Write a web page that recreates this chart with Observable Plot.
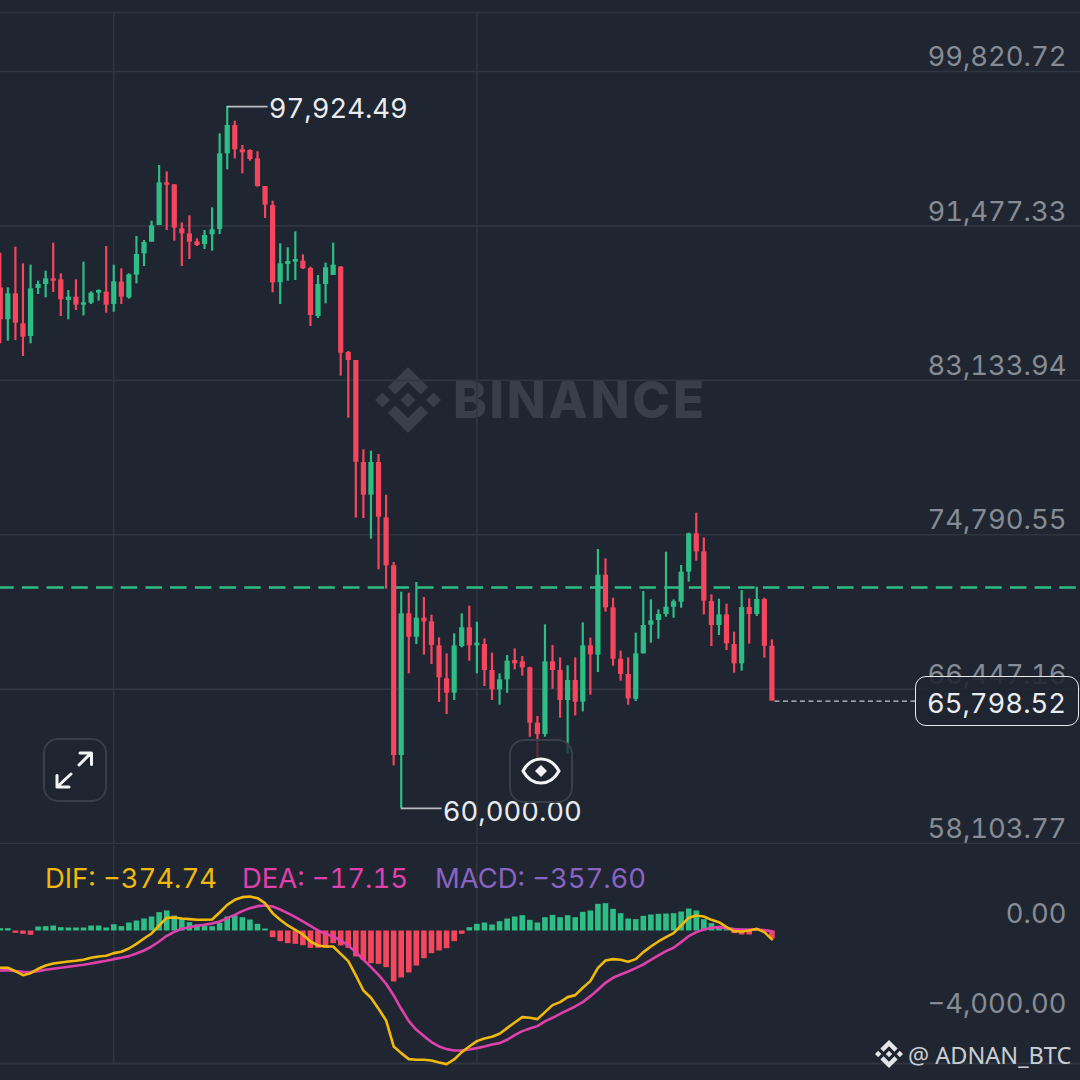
<!DOCTYPE html>
<html>
<head>
<meta charset="utf-8">
<script src="https://cdn.jsdelivr.net/npm/d3@7"></script>
<script src="https://cdn.jsdelivr.net/npm/@observablehq/plot@0.6"></script>
<style>
html,body{margin:0;padding:0;background:#1f2631;}
#stage{position:relative;width:1080px;height:1080px;overflow:hidden;background:#1f2631;font-family:Inter,sans-serif;}
#stage svg{display:block;}
.plot{position:absolute;left:0;}
.abs{position:absolute;white-space:nowrap;font-variant-numeric:tabular-nums;}
.btn{position:absolute;width:60px;height:60px;border:2px solid #383e4a;border-radius:15px;background:rgba(31,38,49,.72);}
</style>
</head>
<body>
<div id="stage"></div>
<script>
const highs=[90004,88130,90328,89427,89355,88491,89031,90544,88887,87986,88563,89517,87914,88022,90364,89355,89157,88887,90904,90688,91733,94741,94399,93696,91643,92021,90778,91229,92453,96452,97924.49,97137,95822,95588,95480,93606,92814,90508,90292,91156,89914,89247,88797,89463,90544,89283,84690,84203,79376,79304,79124,76926,73287,71684,71630,72207,71396,70441,69216,68352,69433,70513,70928,70063,69162,68388,67271,68261,68621,68207,67630,64965,69918,68801,68135,67703,68135,70026,69198,73989,73485,71359,68495,68135,69468,71719,71269,70729,73845,71269,73124,74872,75952,74620,71539,71305,71035,69522,71773,71323,71954,71359,69108];
const lows=[85104,85248,85284,84420,85104,87770,87590,87878,86581,86401,86905,86617,87230,87410,86761,86815,87230,87518,88346,89283,90598,91499,91229,90652,89283,89661,90364,90202,90112,91012,94507,95101,94291,94975,93570,91877,87860,87230,88491,88527,89121,86041,86473,87266,88797,83357,81087,75683,75665,74548,72891,71846,62299,60000,67271,68856,68280,67775,65722,65073,65830,68676,67956,67271,66587,65830,65578,66225,67486,67144,63848,62677,63848,66442,64875,62947,65001,65217,66117,67342,70603,67685,66874,65577,65775,68351,68927,69144,70332,70278,70819,72224,73359,70459,68747,69342,68531,67306,67414,68873,70369,68117,65798.52];
const opens=[88130,86401,87806,86185,85500,88094,88310,88617,88563,87446,87626,87194,87302,87842,87896,87230,88437,87590,88815,89968,90598,91499,93804,93696,91319,91048,90616,90472,90994,91283,95372,96903,95588,95552,95101,93606,92580,88401,89391,89517,89571,89175,86581,88310,88797,89247,84636,84203,78691,76926,78691,75701,73107,62858,70513,69252,70279,70081,68784,67001,66226,68748,69757,68784,68856,67451,66406,66946,67991,67919,67594,64604,63992,67919,67450,65829,66910,65739,68783,68279,72602,70837,68063,67234,65901,68351,69900,70152,70477,70873,71143,72764,74836,73863,71179,69882,70459,68855,67811,70855,70477,71287,68765];
const closes=[86401,87806,86221,85464,88076,88310,88617,88491,87482,87626,87194,87320,87842,87986,87194,88455,87626,88833,89932,90580,91481,93804,93678,91355,91048,90598,90418,90958,91265,95372,96903,95588,95426,95065,93606,92598,88401,89427,89553,89661,89157,86635,88310,89211,89355,84600,84203,78709,76926,78691,75737,73107,62858,70513,69252,70279,70081,68802,67055,66226,68784,69757,68784,68928,67451,66406,66947,67955,67811,67594,64604,63992,67919,67450,65829,66910,65739,68783,68297,72602,70837,68063,67234,65919,68351,69882,70134,70477,70873,71161,72764,74836,73863,71197,69882,70459,68891,67811,70855,70477,71287,68765,65798.52];
const dif=[-1636,-1636,-1784,-1962,-1873,-1680,-1532,-1443,-1399,-1354,-1325,-1280,-1192,-1132,-1103,-984,-925,-777,-570,-333,-110,245,586,600,556,526,497,497,512,823,1163,1385,1504,1534,1459,1237,793,497,245,53,-155,-466,-644,-688,-688,-1014,-1340,-1976,-2643,-2969,-3457,-3976,-5131,-5427,-5694,-5723,-5723,-5753,-5842,-5916,-5709,-5383,-5131,-4894,-4776,-4701,-4568,-4316,-4065,-3828,-3857,-3917,-3606,-3295,-3161,-2939,-2850,-2524,-2228,-1636,-1310,-1251,-1280,-1369,-1251,-940,-688,-466,-273,-96,245,586,689,645,497,393,171,-7,-22,23,97,-51,-374.74];
const dea=[-1754,-1739,-1784,-1814,-1828,-1784,-1725,-1680,-1636,-1591,-1547,-1503,-1443,-1384,-1325,-1251,-1192,-1117,-999,-866,-688,-466,-214,-36,97,171,230,275,334,423,571,719,882,1015,1104,1134,1089,956,793,615,423,230,23,-125,-244,-421,-644,-940,-1266,-1606,-1947,-2347,-2865,-3457,-4005,-4390,-4672,-4938,-5131,-5249,-5309,-5309,-5264,-5205,-5131,-5042,-4983,-4835,-4627,-4450,-4331,-4228,-4020,-3857,-3680,-3517,-3354,-3161,-2895,-2613,-2302,-2080,-1932,-1799,-1651,-1488,-1280,-1088,-895,-747,-495,-229,-51,67,141,171,127,82,67,67,67,38,-17.15];
const macd=[104,104,-104,-148,-193,178,193,222,148,133,133,133,222,222,133,281,193,355,444,533,622,815,889,666,518,370,267,207,193,341,622,666,592,489,296,89,-296,-474,-563,-592,-652,-770,-770,-770,-563,-666,-770,-1155,-1303,-1451,-1481,-1629,-2266,-2088,-1866,-1555,-1229,-1007,-889,-785,-474,-148,148,296,355,267,415,533,622,681,474,355,592,696,592,681,592,829,889,1185,1214,963,770,533,504,652,711,741,755,770,844,977,889,504,326,207,59,-118,-178,-178,89,-59,-357.6];

const priceTicks=[99820.72,91477.33,83133.94,74790.55,66447.16,58103.77];
const macdTicks=[0,-4000];
const highLabel=97924.49, lowLabel=60000, lastPrice=65798.52, refPrice=71936;
const legend=[["DIF: −374.74","#f0b90b",45],["DEA: −17.15","#e040ab",242],["MACD: −357.60","#8a63c4",435]];

const BG="#1f2631",GRID="#2f3541",LABEL="#878c94",UP="#2ebd85",DOWN="#f6465d",WHITE="#eaecef";
const FONT="Inter, sans-serif";
const FS=27.4;
const candles=opens.map((o,i)=>({i,o,c:closes[i],h:highs[i],l:lows[i],dir:closes[i]>=o?"up":"down"}));
const hist=macd.map((v,i)=>({i,v,dir:v>=0?"up":"down"}));
const xOpt={domain:[0.03,142.79],range:[0,1080],axis:null};
const colorOpt={domain:["up","down"],range:[UP,DOWN]};
const fmt=d3.format(",.2f");
const fmtTick=v=>fmt(v).replace("-","−");

const priceChart=Plot.plot({
  width:1080,height:844,margin:0,style:{background:"transparent",fontFamily:FONT},
  x:xOpt,
  y:{domain:[58103.77,99820.72],range:[843,71],axis:null},
  color:colorOpt,
  marks:[
    Plot.gridY(priceTicks,{stroke:GRID,strokeOpacity:1,strokeWidth:1.6}),
    Plot.ruleY([103009],{stroke:GRID,strokeWidth:1.6}),
    Plot.ruleX([15,63],{y1:103009,y2:58103.77,stroke:GRID,strokeWidth:1.6}),
    Plot.axisY({ticks:priceTicks,anchor:"right",tickSize:0,tickPadding:-14,textAnchor:"end",dy:-14,tickFormat:fmt,label:null,fontSize:FS,fill:LABEL,fontWeight:400}),
    Plot.ruleY([refPrice],{x1:0.03,x2:142.79,stroke:UP,strokeWidth:2.4,strokeDasharray:"16.5 8.2",strokeDashoffset:2.8}),
    Plot.ruleX(candles,{x:"i",y1:"l",y2:"h",stroke:"dir",strokeWidth:2.2}),
    Plot.ruleX(candles,{x:"i",y1:"o",y2:"c",stroke:"dir",strokeWidth:5.2}),
    Plot.ruleY([highLabel],{x1:30,x2:35.4,stroke:"#b9bcc2",strokeWidth:1.6}),
    Plot.text([highLabel],{x:35.5,y:d=>d,text:fmt,textAnchor:"start",fontSize:FS,fontVariant:"tabular-nums",fill:WHITE,dy:3}),
    Plot.ruleY([lowLabel],{x1:53,x2:58.4,stroke:"#b9bcc2",strokeWidth:1.6}),
    Plot.text([lowLabel],{x:58.5,y:d=>d,text:fmt,textAnchor:"start",fontSize:FS,fontVariant:"tabular-nums",fill:WHITE,dy:3.5}),
    Plot.ruleY([lastPrice],{x1:102.4,x2:121,stroke:"#c4c7cc",strokeWidth:1.4,strokeDasharray:"5 3.5"})
  ]
});
priceChart.classList.add("plot");priceChart.style.top="0px";

const macdChart=Plot.plot({
  width:1080,height:236,margin:0,style:{background:"transparent",fontFamily:FONT},
  x:xOpt,
  y:{domain:[0,-4000],range:[86.5,176.5],axis:null},
  color:colorOpt,
  marks:[
    Plot.ruleY([-5889],{stroke:GRID,strokeWidth:2}),
    Plot.ruleX([15,63],{y1:3800,y2:-5889,stroke:GRID,strokeWidth:1.6}),
    Plot.axisY({ticks:macdTicks,anchor:"right",tickSize:0,tickPadding:-14,textAnchor:"end",dy:-17,tickFormat:fmtTick,label:null,fontSize:FS,fill:LABEL,fontWeight:400}),
    Plot.ruleX(hist,{x:"i",y1:0,y2:"v",stroke:"dir",strokeWidth:5.6}),
    Plot.line(dea,{x:(d,i)=>i,y:d=>d,stroke:"#e040ab",strokeWidth:2.6,strokeLinejoin:"round"}),
    Plot.line(dif,{x:(d,i)=>i,y:d=>d,stroke:"#f0b90b",strokeWidth:2.6,strokeLinejoin:"round"})
  ]
});
macdChart.classList.add("plot");macdChart.style.top="844px";

const stage=document.getElementById("stage");
const logo=`<path d="M38.73 53.2 63.3 28.63l24.59 24.58 14.3-14.3L63.3 0 24.42 38.9z"/><path d="M0 63.3 14.3 49l14.3 14.3-14.3 14.3z"/><path d="M38.73 73.41 63.3 97.98l24.59-24.57 14.31 14.29-38.9 38.91-38.88-38.88z"/><path d="M97.99 63.31l14.3-14.3 14.32 14.3-14.31 14.3z"/><path d="M77.83 63.3 63.3 48.76 52.58 59.5l-1.24 1.23-2.54 2.54 14.5 14.5 14.53-14.5z"/>`;
const wm=document.createElement("div");
wm.innerHTML=`<svg class="abs" style="left:375px;top:367px" width="66" height="66" viewBox="0 0 126.61 126.61" fill="#383f4a">${logo}</svg>
<div class="abs" style="left:453px;top:369px;font:800 51px/62px Inter,sans-serif;letter-spacing:2.7px;color:#383f4a">BINANCE</div>`;
stage.appendChild(wm);
stage.appendChild(priceChart);
stage.appendChild(macdChart);

const over=document.createElement("div");
over.innerHTML=legend.map(([t,c,x])=>`<div class="abs" style="left:${x}px;top:860px;font:400 ${FS}px/36px ${FONT};font-variant-numeric:tabular-nums;color:${c}">${t}</div>`).join("")+
`<div class="btn" style="left:43px;top:738px"><svg width="60" height="60" viewBox="0 0 60 60" fill="none" stroke="#f2f3f5" stroke-width="3" stroke-linecap="round" stroke-linejoin="round" style="display:block"><path d="M34 25 46 13M35 13h11.5v11.5M26 34 12 47M12 35.5V47H24"/></svg></div>
<div class="btn" style="left:509px;top:739px"><svg width="60" height="60" viewBox="0 0 60 60" fill="none" stroke="#f2f3f5" stroke-width="3.2" stroke-linejoin="round" style="display:block"><path d="M12 30C17 21 23 18 30 18s13 3 18 12C43 39 37 42 30 42s-13-3-18-12z"/><path d="M30 24l6 6-6 6-6-6z" fill="#f2f3f5" stroke="none"/></svg></div>
<div class="abs" style="left:914.5px;top:676px;width:162px;height:48px;border:1.6px solid #e6e8ea;border-radius:11px;background:rgba(31,38,49,.9);text-align:center;font:400 ${FS}px/52px ${FONT};font-variant-numeric:tabular-nums;color:${WHITE}">${fmt(lastPrice)}</div>
<svg class="abs" style="left:875px;top:1040px" width="28" height="28" viewBox="0 0 126.61 126.61" fill="#e3e5e8">${logo}</svg>
<div class="abs" style="left:908px;top:1038px;font:400 23.5px/34px 'Noto Sans',sans-serif;color:#c9cdd3">@ ADNAN_BTC</div>`;
stage.appendChild(over);
</script>
</body>
</html>
